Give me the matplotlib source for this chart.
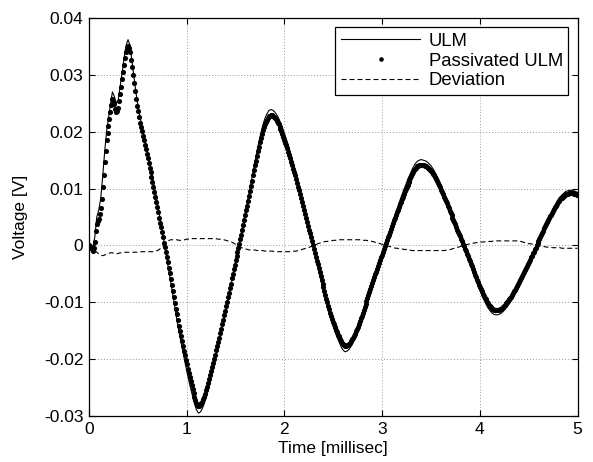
import numpy as np
import matplotlib
matplotlib.use("Agg")
import matplotlib.pyplot as plt
from matplotlib.lines import Line2D

plt.rcParams['font.family'] = ['Liberation Sans', 'DejaVu Sans']

# ULM and deviation: sample step 0.02 ms, 0 .. 5 ms
time_ms = np.round(np.arange(251) * 0.02, 2)
# passivated ULM samples: step 0.01 ms, 0 .. 5 ms
time_p_ms = np.round(np.arange(501) * 0.01, 2)

ulm = [
    0.0000, -0.0002, -0.0004, 0.0015, 0.0050, 0.0062, 0.0082, 0.0120, 0.0163, 0.0200,
    0.0224, 0.0248, 0.0270, 0.0262, 0.0250, 0.0256, 0.0280, 0.0305, 0.0330, 0.0352,
    0.0362, 0.0352, 0.0325, 0.0298, 0.0270, 0.0248, 0.0228, 0.0212, 0.0196, 0.0180,
    0.0164, 0.0148, 0.0131, 0.0113, 0.0095, 0.0076, 0.0056, 0.0036, 0.0015, -0.0006,
    -0.0027, -0.0048, -0.0069, -0.0090, -0.0111, -0.0131, -0.0150, -0.0168, -0.0186, -0.0203,
    -0.0220, -0.0236, -0.0251, -0.0265, -0.0278, -0.0289, -0.0295, -0.0293, -0.0287, -0.0278,
    -0.0267, -0.0254, -0.0240, -0.0226, -0.0211, -0.0196, -0.0181, -0.0165, -0.0149, -0.0133,
    -0.0116, -0.0099, -0.0082, -0.0064, -0.0046, -0.0028, -0.0011, 0.0005, 0.0023, 0.0041,
    0.0059, 0.0077, 0.0095, 0.0113, 0.0131, 0.0149, 0.0166, 0.0183, 0.0198, 0.0212,
    0.0223, 0.0231, 0.0237, 0.0239, 0.0238, 0.0235, 0.0230, 0.0224, 0.0216, 0.0207,
    0.0197, 0.0187, 0.0176, 0.0164, 0.0152, 0.0139, 0.0126, 0.0112, 0.0098, 0.0084,
    0.0069, 0.0054, 0.0039, 0.0024, 0.0009, -0.0006, -0.0021, -0.0036, -0.0051, -0.0066,
    -0.0080, -0.0094, -0.0107, -0.0120, -0.0132, -0.0143, -0.0153, -0.0162, -0.0170, -0.0178,
    -0.0184, -0.0187, -0.0186, -0.0183, -0.0178, -0.0172, -0.0165, -0.0157, -0.0148, -0.0138,
    -0.0128, -0.0117, -0.0106, -0.0095, -0.0084, -0.0073, -0.0062, -0.0051, -0.0040, -0.0029,
    -0.0018, -0.0007, 0.0004, 0.0015, 0.0026, 0.0037, 0.0048, 0.0058, 0.0068, 0.0078,
    0.0088, 0.0097, 0.0106, 0.0115, 0.0123, 0.0131, 0.0138, 0.0144, 0.0148, 0.0150,
    0.0151, 0.0150, 0.0149, 0.0147, 0.0144, 0.0140, 0.0135, 0.0129, 0.0122, 0.0115,
    0.0107, 0.0099, 0.0091, 0.0082, 0.0073, 0.0064, 0.0055, 0.0046, 0.0036, 0.0027,
    0.0018, 0.0009, -0.0001, -0.0011, -0.0021, -0.0031, -0.0041, -0.0051, -0.0061, -0.0070,
    -0.0079, -0.0087, -0.0095, -0.0102, -0.0109, -0.0114, -0.0118, -0.0121, -0.0122, -0.0122,
    -0.0121, -0.0119, -0.0116, -0.0112, -0.0108, -0.0103, -0.0098, -0.0092, -0.0086, -0.0079,
    -0.0072, -0.0064, -0.0056, -0.0048, -0.0040, -0.0032, -0.0024, -0.0016, -0.0008, 0.0000,
    0.0008, 0.0016, 0.0024, 0.0032, 0.0040, 0.0047, 0.0054, 0.0061, 0.0068, 0.0074,
    0.0080, 0.0085, 0.0089, 0.0092, 0.0095, 0.0096, 0.0097, 0.0097, 0.0096, 0.0095,
    0.0093,
]

passivated = [
    0.0000, -0.0002, -0.0004, -0.0007, -0.0009, -0.0004, 0.0006, 0.0025, 0.0038, 0.0043,
    0.0047, 0.0055, 0.0065, 0.0082, 0.0102, 0.0124, 0.0146, 0.0166, 0.0185, 0.0198,
    0.0210, 0.0222, 0.0235, 0.0247, 0.0257, 0.0254, 0.0248, 0.0240, 0.0235, 0.0236,
    0.0242, 0.0254, 0.0267, 0.0279, 0.0292, 0.0305, 0.0318, 0.0330, 0.0340, 0.0347,
    0.0350, 0.0347, 0.0340, 0.0327, 0.0313, 0.0300, 0.0286, 0.0272, 0.0258, 0.0246,
    0.0236, 0.0226, 0.0216, 0.0208, 0.0201, 0.0193, 0.0185, 0.0177, 0.0169, 0.0161,
    0.0153, 0.0145, 0.0137, 0.0129, 0.0120, 0.0111, 0.0102, 0.0094, 0.0085, 0.0076,
    0.0067, 0.0058, 0.0049, 0.0040, 0.0032, 0.0023, 0.0014, 0.0005, -0.0003, -0.0012,
    -0.0021, -0.0030, -0.0039, -0.0049, -0.0059, -0.0070, -0.0080, -0.0091, -0.0101, -0.0111,
    -0.0121, -0.0131, -0.0141, -0.0150, -0.0159, -0.0168, -0.0177, -0.0185, -0.0193, -0.0201,
    -0.0209, -0.0217, -0.0225, -0.0232, -0.0239, -0.0246, -0.0253, -0.0260, -0.0266, -0.0272,
    -0.0277, -0.0281, -0.0283, -0.0283, -0.0281, -0.0278, -0.0275, -0.0271, -0.0266, -0.0261,
    -0.0255, -0.0249, -0.0242, -0.0235, -0.0228, -0.0221, -0.0214, -0.0207, -0.0199, -0.0192,
    -0.0184, -0.0177, -0.0170, -0.0162, -0.0154, -0.0147, -0.0139, -0.0131, -0.0123, -0.0115,
    -0.0107, -0.0099, -0.0091, -0.0083, -0.0075, -0.0067, -0.0058, -0.0050, -0.0042, -0.0034,
    -0.0026, -0.0018, -0.0011, -0.0004, 0.0003, 0.0011, 0.0019, 0.0028, 0.0036, 0.0045,
    0.0053, 0.0062, 0.0070, 0.0079, 0.0087, 0.0096, 0.0105, 0.0114, 0.0123, 0.0132,
    0.0141, 0.0149, 0.0157, 0.0166, 0.0174, 0.0182, 0.0189, 0.0196, 0.0203, 0.0208,
    0.0213, 0.0217, 0.0221, 0.0224, 0.0227, 0.0228, 0.0229, 0.0229, 0.0228, 0.0226,
    0.0224, 0.0222, 0.0219, 0.0216, 0.0213, 0.0209, 0.0205, 0.0201, 0.0196, 0.0191,
    0.0186, 0.0181, 0.0176, 0.0171, 0.0165, 0.0159, 0.0153, 0.0147, 0.0141, 0.0135,
    0.0129, 0.0123, 0.0116, 0.0110, 0.0103, 0.0097, 0.0090, 0.0084, 0.0077, 0.0070,
    0.0063, 0.0056, 0.0049, 0.0042, 0.0035, 0.0028, 0.0021, 0.0015, 0.0008, 0.0001,
    -0.0006, -0.0013, -0.0020, -0.0027, -0.0033, -0.0040, -0.0047, -0.0054, -0.0061, -0.0068,
    -0.0074, -0.0081, -0.0087, -0.0094, -0.0100, -0.0106, -0.0112, -0.0118, -0.0124, -0.0129,
    -0.0134, -0.0139, -0.0144, -0.0149, -0.0153, -0.0157, -0.0160, -0.0164, -0.0168, -0.0171,
    -0.0174, -0.0176, -0.0177, -0.0177, -0.0176, -0.0175, -0.0173, -0.0171, -0.0168, -0.0165,
    -0.0162, -0.0159, -0.0155, -0.0151, -0.0147, -0.0143, -0.0138, -0.0133, -0.0128, -0.0124,
    -0.0119, -0.0114, -0.0108, -0.0103, -0.0097, -0.0092, -0.0087, -0.0082, -0.0076, -0.0071,
    -0.0066, -0.0061, -0.0056, -0.0051, -0.0046, -0.0041, -0.0036, -0.0031, -0.0026, -0.0021,
    -0.0016, -0.0011, -0.0006, -0.0001, 0.0004, 0.0009, 0.0014, 0.0019, 0.0024, 0.0029,
    0.0034, 0.0039, 0.0044, 0.0049, 0.0053, 0.0058, 0.0063, 0.0068, 0.0072, 0.0077,
    0.0082, 0.0086, 0.0090, 0.0095, 0.0099, 0.0103, 0.0107, 0.0111, 0.0115, 0.0119,
    0.0122, 0.0126, 0.0129, 0.0132, 0.0135, 0.0137, 0.0139, 0.0140, 0.0141, 0.0142,
    0.0142, 0.0142, 0.0141, 0.0141, 0.0140, 0.0139, 0.0138, 0.0137, 0.0135, 0.0133,
    0.0131, 0.0129, 0.0126, 0.0123, 0.0120, 0.0117, 0.0113, 0.0110, 0.0106, 0.0102,
    0.0098, 0.0094, 0.0090, 0.0086, 0.0082, 0.0078, 0.0074, 0.0070, 0.0065, 0.0061,
    0.0057, 0.0053, 0.0049, 0.0045, 0.0041, 0.0037, 0.0032, 0.0028, 0.0024, 0.0020,
    0.0016, 0.0012, 0.0008, 0.0003, -0.0001, -0.0006, -0.0010, -0.0015, -0.0019, -0.0024,
    -0.0028, -0.0033, -0.0037, -0.0042, -0.0047, -0.0052, -0.0056, -0.0061, -0.0065, -0.0069,
    -0.0073, -0.0077, -0.0081, -0.0085, -0.0089, -0.0092, -0.0095, -0.0099, -0.0102, -0.0105,
    -0.0107, -0.0109, -0.0111, -0.0112, -0.0113, -0.0114, -0.0114, -0.0114, -0.0114, -0.0114,
    -0.0113, -0.0112, -0.0111, -0.0110, -0.0108, -0.0106, -0.0104, -0.0102, -0.0100, -0.0098,
    -0.0095, -0.0093, -0.0090, -0.0087, -0.0084, -0.0081, -0.0078, -0.0075, -0.0071, -0.0068,
    -0.0065, -0.0061, -0.0057, -0.0054, -0.0050, -0.0047, -0.0043, -0.0040, -0.0036, -0.0033,
    -0.0029, -0.0025, -0.0021, -0.0018, -0.0014, -0.0011, -0.0007, -0.0004, 0.0000, 0.0004,
    0.0007, 0.0011, 0.0015, 0.0019, 0.0022, 0.0026, 0.0030, 0.0034, 0.0037, 0.0041,
    0.0044, 0.0048, 0.0051, 0.0054, 0.0057, 0.0061, 0.0064, 0.0067, 0.0070, 0.0073,
    0.0076, 0.0079, 0.0081, 0.0083, 0.0084, 0.0086, 0.0087, 0.0089, 0.0090, 0.0091,
    0.0091, 0.0092, 0.0092, 0.0092, 0.0092, 0.0092, 0.0091, 0.0091, 0.0090, 0.0089,
    0.0088,
]

deviation = [
    0.0000, -0.0002, -0.0005, -0.0009, -0.0012, -0.0015, -0.0017, -0.0018, -0.0017, -0.0015,
    -0.0014, -0.0013, -0.0013, -0.0014, -0.0015, -0.0014, -0.0013, -0.0013, -0.0012, -0.0012,
    -0.0012, -0.0012, -0.0012, -0.0012, -0.0012, -0.0012, -0.0012, -0.0011, -0.0011, -0.0011,
    -0.0011, -0.0011, -0.0011, -0.0011, -0.0010, -0.0009, -0.0007, -0.0004, -0.0001, 0.0003,
    0.0006, 0.0009, 0.0010, 0.0010, 0.0010, 0.0010, 0.0009, 0.0009, 0.0009, 0.0010,
    0.0011, 0.0011, 0.0012, 0.0012, 0.0012, 0.0012, 0.0012, 0.0012, 0.0012, 0.0012,
    0.0012, 0.0012, 0.0012, 0.0012, 0.0012, 0.0012, 0.0011, 0.0011, 0.0010, 0.0010,
    0.0009, 0.0008, 0.0007, 0.0006, 0.0004, 0.0002, 0.0000, -0.0002, -0.0004, -0.0005,
    -0.0006, -0.0007, -0.0008, -0.0008, -0.0008, -0.0008, -0.0009, -0.0009, -0.0009, -0.0009,
    -0.0010, -0.0010, -0.0010, -0.0010, -0.0010, -0.0011, -0.0011, -0.0011, -0.0011, -0.0011,
    -0.0011, -0.0011, -0.0011, -0.0011, -0.0011, -0.0010, -0.0010, -0.0009, -0.0008, -0.0007,
    -0.0006, -0.0005, -0.0004, -0.0003, -0.0001, 0.0000, 0.0001, 0.0003, 0.0004, 0.0005,
    0.0006, 0.0007, 0.0007, 0.0008, 0.0008, 0.0009, 0.0009, 0.0009, 0.0010, 0.0010,
    0.0010, 0.0010, 0.0010, 0.0010, 0.0010, 0.0010, 0.0010, 0.0010, 0.0010, 0.0010,
    0.0009, 0.0009, 0.0009, 0.0008, 0.0008, 0.0007, 0.0006, 0.0005, 0.0004, 0.0003,
    0.0002, 0.0001, 0.0000, -0.0001, -0.0002, -0.0003, -0.0004, -0.0005, -0.0005, -0.0006,
    -0.0006, -0.0007, -0.0007, -0.0008, -0.0008, -0.0009, -0.0009, -0.0009, -0.0009, -0.0009,
    -0.0009, -0.0009, -0.0009, -0.0009, -0.0009, -0.0009, -0.0009, -0.0009, -0.0009, -0.0009,
    -0.0009, -0.0009, -0.0009, -0.0008, -0.0008, -0.0007, -0.0006, -0.0005, -0.0004, -0.0003,
    -0.0002, -0.0001, 0.0000, 0.0001, 0.0002, 0.0003, 0.0004, 0.0004, 0.0005, 0.0005,
    0.0006, 0.0006, 0.0006, 0.0007, 0.0007, 0.0007, 0.0007, 0.0008, 0.0008, 0.0008,
    0.0008, 0.0008, 0.0008, 0.0008, 0.0008, 0.0008, 0.0008, 0.0008, 0.0008, 0.0008,
    0.0007, 0.0007, 0.0006, 0.0005, 0.0004, 0.0003, 0.0003, 0.0002, 0.0001, 0.0000,
    -0.0001, -0.0001, -0.0002, -0.0002, -0.0003, -0.0003, -0.0003, -0.0004, -0.0004, -0.0004,
    -0.0004, -0.0004, -0.0005, -0.0005, -0.0005, -0.0005, -0.0005, -0.0005, -0.0005, -0.0005,
    -0.0005,
]

x_ticks = [0, 1, 2, 3, 4, 5]
y_ticks = [-0.03, -0.02, -0.01, 0, 0.01, 0.02, 0.03, 0.04]
y_tick_labels = ['-0.03', '-0.02', '-0.01', '0', '0.01', '0.02', '0.03', '0.04']
legend_labels = ['ULM', 'Passivated ULM', 'Deviation']

FS = 12.5
LFS = 13.3
DASH = (0, (4.5, 2.7))

fig = plt.figure(figsize=(5.93, 4.62), dpi=100)
ax = fig.add_axes([0.150, 0.0996, 0.824, 0.8614])

ax.plot(time_ms, ulm, color='black', lw=0.8, zorder=3)
ax.plot(time_p_ms, passivated, linestyle='none', marker='o', markersize=3.7,
        color='black', markeredgewidth=0, zorder=4)
ax.plot(time_ms, deviation, color='black', lw=0.8, linestyle=DASH, zorder=5)

ax.set_xlim(0, 5)
ax.set_ylim(-0.03, 0.04)
ax.set_xticks(x_ticks)
ax.set_xticklabels([str(v) for v in x_ticks])
ax.set_yticks(y_ticks)
ax.set_yticklabels(y_tick_labels)
ax.tick_params(direction='in', length=4, width=0.8, labelsize=FS,
               top=True, right=True, pad=4)
for sp in ax.spines.values():
    sp.set_linewidth(0.9)
ax.grid(True, color='#9a9a9a', linestyle=(0, (1, 2)), linewidth=0.7)
ax.set_axisbelow(True)

ax.set_xlabel('Time [millisec]', fontsize=FS, labelpad=3)
ax.set_ylabel('Voltage [V]', fontsize=FS, labelpad=11)

handles = [
    Line2D([], [], color='black', lw=0.8),
    Line2D([], [], linestyle='none', marker='o', markersize=3.3, color='black', markeredgewidth=0),
    Line2D([], [], color='black', lw=0.8, linestyle=DASH),
]
leg = ax.legend(handles, legend_labels, loc='upper right', borderaxespad=0.5,
                fontsize=LFS, handlelength=4.3, handletextpad=0.45,
                labelspacing=0.15, fancybox=False, framealpha=1,
                edgecolor='black', borderpad=0.3)
leg.get_frame().set_linewidth(0.9)

fig.savefig('out.png', dpi=100)
